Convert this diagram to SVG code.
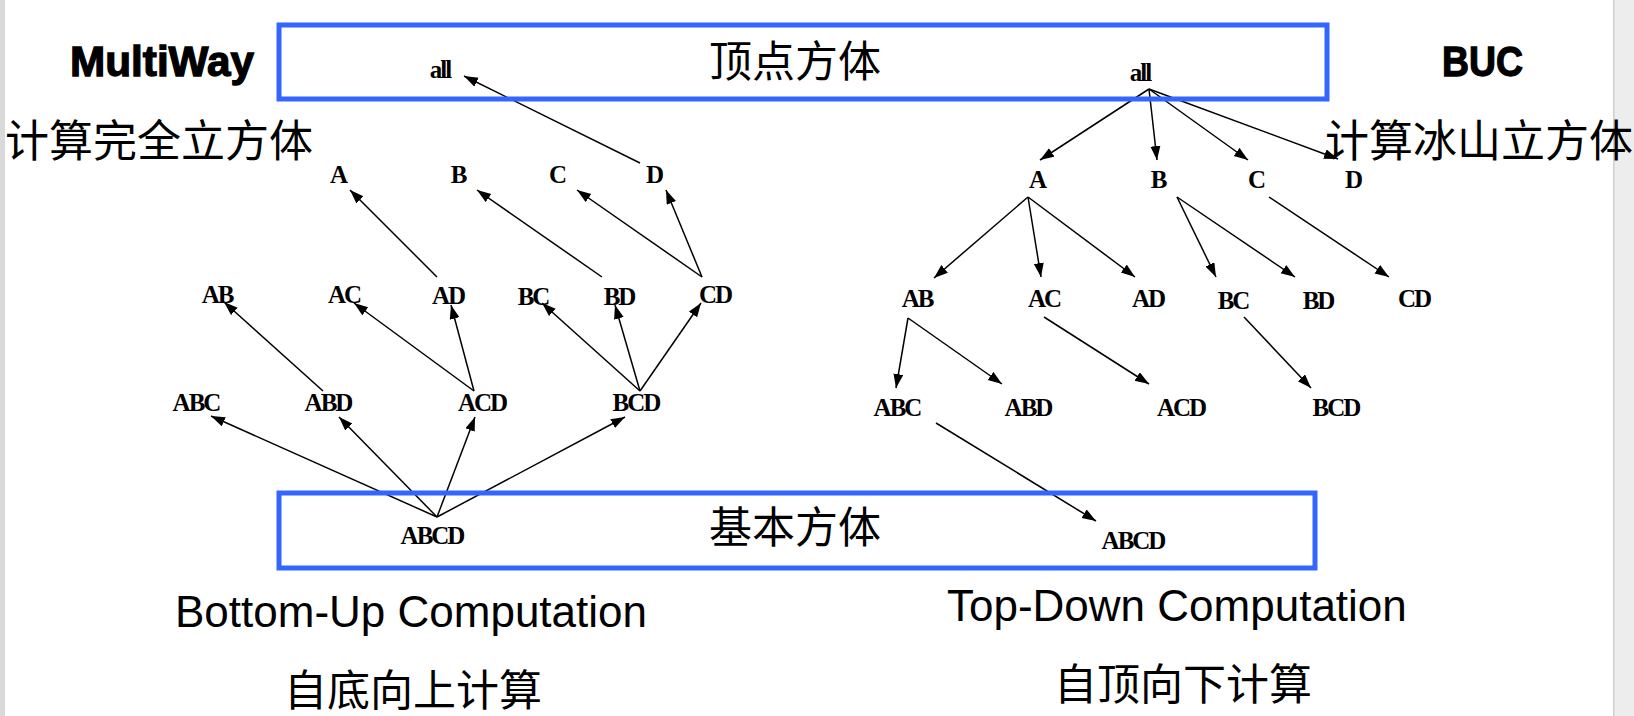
<svg xmlns="http://www.w3.org/2000/svg" width="1634" height="716" viewBox="0 0 1634 716">
<defs>
<marker id="ah" markerUnits="userSpaceOnUse" markerWidth="15" markerHeight="11" refX="14" refY="5" orient="auto">
<path d="M0,0 L14,5 L0,10 z" fill="#000"/>
</marker>
<style>
.n{font-family:"Liberation Serif","Times New Roman",serif;font-weight:bold;font-size:25px;letter-spacing:-2px;text-anchor:middle;fill:#000}
.c{stroke:#000;stroke-width:1.5;fill:none;marker-end:url(#ah)}
.box{fill:none;stroke:#3366ff;stroke-width:5}
.cjk{font-family:"Noto Sans CJK SC","Noto Sans",sans-serif;fill:#000}
.lat{font-family:"Liberation Sans",Arial,sans-serif;fill:#000}
.hb{font-family:"Liberation Sans",Arial,sans-serif;font-weight:bold;fill:#000;stroke:#000;stroke-width:1.3}
</style>
</defs>
<rect x="0" y="0" width="1634" height="716" fill="#fff"/>
<rect x="0" y="0" width="5" height="716" fill="#d9d9d9"/>
<rect x="1613" y="0" width="21" height="716" fill="#ededed"/>
<rect x="1613" y="0" width="1.5" height="716" fill="#cfcfcf"/>

<g id="connectors">
<line class="c" x1="640" y1="163" x2="464" y2="76"/>
<line class="c" x1="437" y1="277" x2="350" y2="190"/>
<line class="c" x1="602" y1="277" x2="477" y2="190"/>
<line class="c" x1="702" y1="277" x2="577" y2="190"/>
<line class="c" x1="702" y1="277" x2="666" y2="190"/>
<line class="c" x1="323" y1="391" x2="224" y2="302"/>
<line class="c" x1="474" y1="391" x2="354" y2="303"/>
<line class="c" x1="474" y1="391" x2="451" y2="305"/>
<line class="c" x1="640" y1="391" x2="542" y2="303"/>
<line class="c" x1="640" y1="391" x2="615" y2="305"/>
<line class="c" x1="640" y1="391" x2="701" y2="303"/>
<line class="c" x1="437" y1="517" x2="211" y2="416"/>
<line class="c" x1="437" y1="517" x2="339" y2="417"/>
<line class="c" x1="437" y1="517" x2="475" y2="417"/>
<line class="c" x1="437" y1="517" x2="625" y2="417"/>

<line class="c" x1="1149" y1="89" x2="1040" y2="160"/>
<line class="c" x1="1149" y1="89" x2="1157" y2="160"/>
<line class="c" x1="1149" y1="89" x2="1248" y2="160"/>
<line class="c" x1="1149" y1="89" x2="1338" y2="159"/>
<line class="c" x1="1028" y1="197" x2="934" y2="278"/>
<line class="c" x1="1028" y1="197" x2="1041" y2="277"/>
<line class="c" x1="1028" y1="197" x2="1135" y2="277"/>
<line class="c" x1="1177" y1="197" x2="1216" y2="277"/>
<line class="c" x1="1177" y1="197" x2="1295" y2="277"/>
<line class="c" x1="1269" y1="197" x2="1389" y2="277"/>
<line class="c" x1="908" y1="318" x2="896" y2="388"/>
<line class="c" x1="908" y1="318" x2="1002" y2="384"/>
<line class="c" x1="1044" y1="317" x2="1149" y2="384"/>
<line class="c" x1="1244" y1="317" x2="1311" y2="388"/>
<line class="c" x1="936" y1="423" x2="1096" y2="521"/>
</g>

<g id="box-top">
<rect class="box" x="279" y="25" width="1048" height="74"/>
<text class="cjk" x="709" y="77" font-size="43">顶点方体</text>
</g>
<g id="box-bottom">
<rect class="box" x="279" y="493" width="1036" height="75"/>
<text class="cjk" x="709" y="543" font-size="43">基本方体</text>
</g>

<g id="titles">
<text class="hb" x="70" y="76" font-size="43" textLength="184" lengthAdjust="spacingAndGlyphs">MultiWay</text>
<text class="hb" x="1442" y="76" font-size="43" textLength="81" lengthAdjust="spacingAndGlyphs">BUC</text>
<text class="cjk" x="5" y="157" font-size="44">计算完全立方体</text>
<text class="cjk" x="1325" y="157" font-size="44">计算冰山立方体</text>
<text class="lat" x="175" y="627" font-size="44">Bottom-Up Computation</text>
<text class="lat" x="947" y="621" font-size="44">Top-Down Computation</text>
<text class="cjk" x="284" y="706" font-size="43">自底向上计算</text>
<text class="cjk" x="1054" y="700" font-size="43">自顶向下计算</text>
</g>

<g id="left-all"><text class="n" x="440" y="78">all</text></g>
<g id="left-A"><text class="n" x="338" y="183">A</text></g>
<g id="left-B"><text class="n" x="458" y="183">B</text></g>
<g id="left-C"><text class="n" x="557" y="183">C</text></g>
<g id="left-D"><text class="n" x="654" y="183">D</text></g>
<g id="left-AB"><text class="n" x="217" y="303">AB</text></g>
<g id="left-AC"><text class="n" x="344" y="303">AC</text></g>
<g id="left-AD"><text class="n" x="448" y="304">AD</text></g>
<g id="left-BC"><text class="n" x="533" y="305">BC</text></g>
<g id="left-BD"><text class="n" x="619" y="305">BD</text></g>
<g id="left-CD"><text class="n" x="715" y="303">CD</text></g>
<g id="left-ABC"><text class="n" x="196" y="411">ABC</text></g>
<g id="left-ABD"><text class="n" x="328" y="411">ABD</text></g>
<g id="left-ACD"><text class="n" x="482" y="411">ACD</text></g>
<g id="left-BCD"><text class="n" x="636" y="411">BCD</text></g>
<g id="left-ABCD"><text class="n" x="432" y="544">ABCD</text></g>

<g id="right-all"><text class="n" x="1140" y="81">all</text></g>
<g id="right-A"><text class="n" x="1037" y="188">A</text></g>
<g id="right-B"><text class="n" x="1158" y="188">B</text></g>
<g id="right-C"><text class="n" x="1256" y="188">C</text></g>
<g id="right-D"><text class="n" x="1353" y="188">D</text></g>
<g id="right-AB"><text class="n" x="917" y="307">AB</text></g>
<g id="right-AC"><text class="n" x="1044" y="307">AC</text></g>
<g id="right-AD"><text class="n" x="1148" y="307">AD</text></g>
<g id="right-BC"><text class="n" x="1233" y="309">BC</text></g>
<g id="right-BD"><text class="n" x="1318" y="309">BD</text></g>
<g id="right-CD"><text class="n" x="1414" y="307">CD</text></g>
<g id="right-ABC"><text class="n" x="897" y="416">ABC</text></g>
<g id="right-ABD"><text class="n" x="1028" y="416">ABD</text></g>
<g id="right-ACD"><text class="n" x="1181" y="416">ACD</text></g>
<g id="right-BCD"><text class="n" x="1336" y="416">BCD</text></g>
<g id="right-ABCD"><text class="n" x="1133" y="549">ABCD</text></g>
</svg>
